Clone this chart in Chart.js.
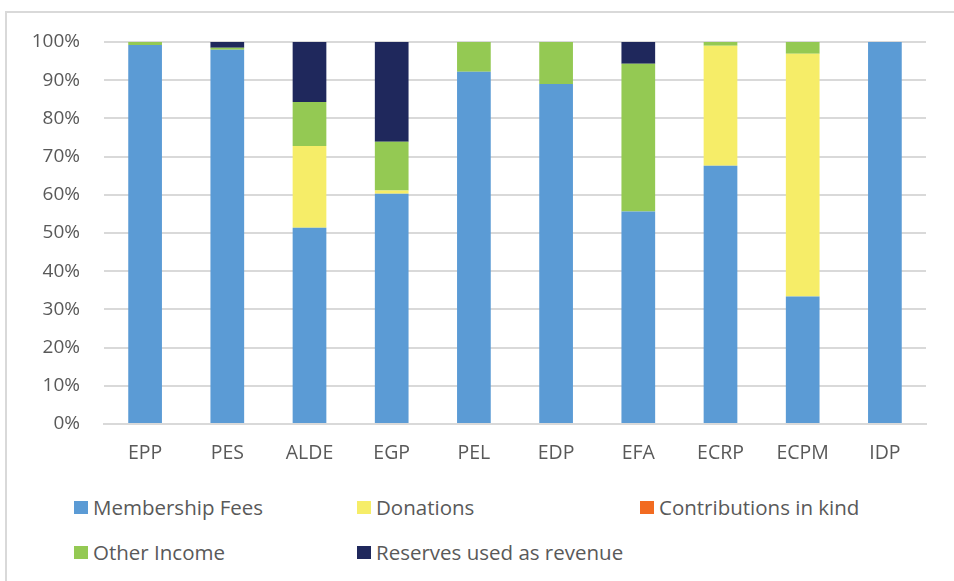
<!DOCTYPE html>
<html>
<head>
<meta charset="utf-8">
<script src="https://cdn.jsdelivr.net/npm/chart.js@4"></script>
<style>
  html, body { margin: 0; padding: 0; background: #fff; }
  body { width: 954px; height: 581px; overflow: hidden; position: relative; font-family: "Open Sans", sans-serif; }
  #frame { position: absolute; left: 5px; top: 11px; width: 1000px; height: 600px; border-left: 2px solid #d9d9d9; border-top: 2px solid #d9d9d9; }
  #wrap { position: absolute; left: 0; top: 0; width: 954px; height: 480px; }
  #legend { position: absolute; left: 0; top: 0; }
  .item { position: absolute; display: flex; align-items: center; height: 26px; font-size: 20.5px; color: #595959; white-space: nowrap; }
  .box { width: 14px; height: 13px; margin-right: 5px; }
</style>
</head>
<body>
<div id="frame"></div>
<div id="wrap"><canvas id="chart"></canvas></div>
<div id="legend"></div>
<script>
// Categorías (partidos europeos) y series en porcentaje
const parties = ['EPP', 'PES', 'ALDE', 'EGP', 'PEL', 'EDP', 'EFA', 'ECRP', 'ECPM', 'IDP'];
const membershipFees = [99.2, 98.0, 51.4, 60.3, 92.2, 89.0, 55.6, 67.6, 33.4, 100];
const donations = [0, 0, 21.4, 0.8, 0, 0, 0, 31.4, 63.5, 0];
const contributionsInKind = [0, 0, 0, 0, 0, 0, 0, 0, 0, 0];
const otherIncome = [0.8, 0.5, 11.5, 12.8, 7.8, 11.0, 38.7, 1.0, 3.1, 0];
const reserves = [0, 1.5, 15.7, 26.1, 0, 0, 5.7, 0, 0, 0];
const yTicks = [0, 10, 20, 30, 40, 50, 60, 70, 80, 90, 100];

const series = [
    { label: 'Membership Fees', data: membershipFees, color: '#5b9bd5' },
    { label: 'Donations', data: donations, color: '#f6ed68' },
    { label: 'Contributions in kind', data: contributionsInKind, color: '#f26b21' },
    { label: 'Other Income', data: otherIncome, color: '#94c953' },
    { label: 'Reserves used as revenue', data: reserves, color: '#1f285c' }
];

const ctx = document.getElementById('chart').getContext('2d');
new Chart(ctx, {
    type: 'bar',
    data: {
        labels: parties,
        datasets: series.map(s => ({
            label: s.label,
            data: s.data,
            backgroundColor: s.color,
            borderWidth: 0,
            barPercentage: 0.41,
            categoryPercentage: 1
        }))
    },
    options: {
        responsive: true,
        maintainAspectRatio: false,
        animation: false,
        layout: { padding: { left: 0, right: 28, top: 42, bottom: 0 } },
        plugins: {
            legend: { display: false },
            tooltip: { enabled: false }
        },
        scales: {
            x: {
                stacked: true,
                grid: { display: false },
                border: { color: '#d9d9d9', width: 2 },
                ticks: { color: '#595959', font: { size: 19.5, family: '"Open Sans", sans-serif' }, padding: 10 },
                afterFit: scale => { scale.height = 56; }
            },
            y: {
                stacked: true,
                min: 0,
                max: 100,
                afterBuildTicks: scale => { scale.ticks = yTicks.map(v => ({ value: v })); },
                grid: { color: '#d9d9d9', lineWidth: 2, drawTicks: false },
                border: { display: false },
                ticks: {
                    color: '#595959',
                    font: { size: 19, family: '"Open Sans", sans-serif' },
                    padding: 24,
                    callback: v => v + '%'
                },
                afterFit: scale => { scale.width = 104; }
            }
        }
    }
});

// Leyenda en HTML con columnas fijas
const legend = document.getElementById('legend');
const pos = [[74, 507], [357, 507], [640, 507], [74, 552], [357, 552]];
series.forEach((s, i) => {
    const el = document.createElement('div');
    el.className = 'item';
    el.style.left = pos[i][0] + 'px';
    el.style.top = (pos[i][1] - 13) + 'px';
    el.innerHTML = `<span class="box" style="background:${s.color}"></span>${s.label}`;
    legend.appendChild(el);
});
</script>
</body>
</html>
